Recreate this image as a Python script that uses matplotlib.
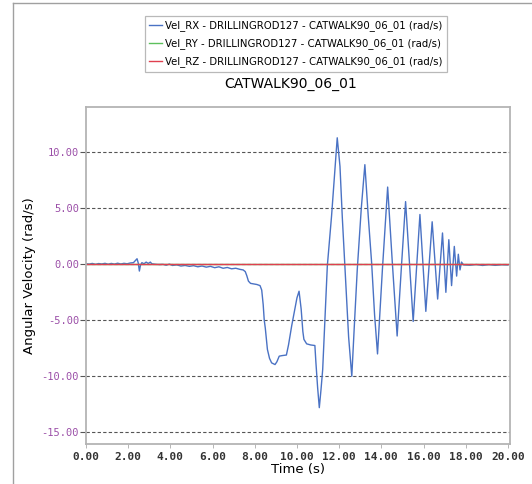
import matplotlib
matplotlib.use('Agg')
import matplotlib.pyplot as plt
from matplotlib.lines import Line2D

# Vel_RX samples (time in s, angular velocity in rad/s)
time_rx = [0.00, 0.15, 0.30, 0.45, 0.60, 0.75, 0.90, 1.05, 1.20, 1.35, 1.50, 1.65, 1.80, 1.95,
           2.10, 2.25, 2.35, 2.42, 2.48, 2.53, 2.58, 2.65, 2.75, 2.85, 2.95, 3.05, 3.12, 3.30,
           3.50, 3.65, 3.80, 3.95, 4.10, 4.30, 4.50, 4.70, 4.90, 5.10, 5.30, 5.50, 5.70, 5.90,
           6.10, 6.30, 6.50, 6.70, 6.90, 7.10, 7.30, 7.45, 7.55, 7.62, 7.70, 7.80, 7.95, 8.10,
           8.25, 8.33, 8.40, 8.45, 8.50, 8.60, 8.70, 8.80, 8.90, 8.96, 9.05, 9.16, 9.30, 9.50,
           9.60, 9.75, 9.90, 10.00, 10.10, 10.20, 10.28, 10.33, 10.46, 10.65, 10.85, 10.90,
           10.98, 11.06, 11.14, 11.22, 11.33, 11.44, 11.64, 11.80, 11.91, 12.04, 12.15, 12.27,
           12.45, 12.60, 12.72, 12.86, 13.05, 13.22, 13.38, 13.54, 13.68, 13.82, 14.05, 14.30,
           14.52, 14.75, 14.95, 15.15, 15.33, 15.51, 15.67, 15.83, 15.97, 16.11, 16.26, 16.41,
           16.54, 16.67, 16.90, 17.06, 17.20, 17.33, 17.46, 17.57, 17.65, 17.73, 17.80, 17.90,
           18.20, 18.50, 18.80, 19.10, 19.40, 19.70, 20.00]
vel_rx = [0.05, 0.02, 0.08, 0.00, 0.07, 0.03, 0.09, 0.01, 0.08, 0.02, 0.10, 0.03, 0.09, 0.05,
          0.12, 0.15, 0.35, 0.50, 0.10, -0.60, -0.10, 0.15, 0.05, 0.20, 0.08, 0.20, 0.05, 0.00,
          -0.02, 0.00, -0.08, 0.02, -0.10, -0.05, -0.15, -0.10, -0.18, -0.12, -0.22, -0.15, -0.25, -0.18,
          -0.30, -0.22, -0.35, -0.28, -0.40, -0.35, -0.45, -0.50, -0.65, -1.00, -1.50, -1.70, -1.75, -1.80,
          -1.90, -2.30, -3.60, -5.00, -5.70, -7.60, -8.40, -8.80, -8.90, -8.95, -8.70, -8.20, -8.15, -8.10,
          -7.20, -5.50, -4.00, -3.00, -2.40, -4.00, -6.00, -6.70, -7.10, -7.20, -7.25, -8.80,
          -11.00, -12.80, -11.20, -9.40, -4.80, -0.15, 4.30, 8.50, 11.30, 8.75, 4.20, -0.15,
          -6.50, -10.00, -5.50, -0.45, 5.00, 8.90, 4.30, 0.15, -4.50, -8.00, -0.50, 6.90,
          0.20, -6.40, -0.30, 5.60, 0.20, -5.10, -0.30, 4.45, 0.10, -4.20, -0.20, 3.80,
          0.30, -3.10, 2.80, -2.50, 2.20, -1.90, 1.60, -1.05, 0.90, -0.50, 0.20, -0.05,
          -0.08, -0.02, -0.10, -0.03, -0.09, -0.04, -0.06]

# Vel_RY and Vel_RZ stay flat at zero
time_ry = [0.0, 20.0]
vel_ry = [0.0, 0.0]
time_rz = [0.0, 20.0]
vel_rz = [0.0, 0.0]

series_names = ['Vel_RX - DRILLINGROD127 - CATWALK90_06_01 (rad/s)',
                'Vel_RY - DRILLINGROD127 - CATWALK90_06_01 (rad/s)',
                'Vel_RZ - DRILLINGROD127 - CATWALK90_06_01 (rad/s)']
x_ticks = [0, 2, 4, 6, 8, 10, 12, 14, 16, 18, 20]
y_ticks = [-15, -10, -5, 0, 5, 10]

fig = plt.figure(figsize=(5.32, 4.84), dpi=100)
ax = fig.add_axes([86 / 532, 1 - 443.5 / 484, 424 / 532, 336.5 / 484])

ax.plot(time_rx, vel_rx, color='#4a72c4', lw=1.0, label=series_names[0])
ax.plot(time_ry, vel_ry, color='#5cc05c', lw=1.0, label=series_names[1])
ax.plot(time_rz, vel_rz, color='#e0404f', lw=1.0, label=series_names[2])

ax.set_xlim(0, 20.1)
ax.set_ylim(-16.0, 14.05)
ax.set_xticks(x_ticks)
ax.set_xticklabels([f'{v:.2f}' for v in x_ticks], family='DejaVu Sans Mono', fontsize=8,
                   color='#333333', fontweight='semibold')
ax.set_yticks(y_ticks)
ax.set_yticklabels([f'{v:.2f}' for v in y_ticks], family='DejaVu Sans Mono', fontsize=7.5, color='#9b4fa8')
ax.tick_params(axis='y', direction='out', length=4, width=0.8, color='#555555', pad=1)
ax.tick_params(axis='x', direction='out', length=3, width=0.6, color='#aaaaaa', pad=3)
ax.grid(axis='y', linestyle=(0, (3, 2)), color='#555555', lw=0.8)
ax.set_axisbelow(True)
for sp in ax.spines.values():
    sp.set_color('#b4b4b4')
    sp.set_linewidth(1.3)

ax.set_xlabel('Time (s)', fontsize=9.5, labelpad=1)
ax.set_ylabel('Angular Velocity (rad/s)', fontsize=9.5, labelpad=4)

fig.text(291 / 532, 1 - 84 / 484, 'CATWALK90_06_01', ha='center', va='center', fontsize=10)

leg = fig.legend(loc='center', bbox_to_anchor=(296 / 532, 1 - 44 / 484), fontsize=7.3,
                 frameon=True, fancybox=False, edgecolor='#a8a8a8', handlelength=1.2,
                 handletextpad=0.35, labelspacing=0.7, borderpad=0.45)
leg.get_frame().set_linewidth(0.9)

# outer panel border (left and top edges)
fig.add_artist(Line2D([12.5 / 532, 12.5 / 532], [0, 1 - 2.5 / 484], transform=fig.transFigure,
                      color='#a0a0a0', lw=1.0))
fig.add_artist(Line2D([12.5 / 532, 1], [1 - 2.5 / 484, 1 - 2.5 / 484], transform=fig.transFigure,
                      color='#a0a0a0', lw=1.0))

fig.savefig('out.png', dpi=100)
